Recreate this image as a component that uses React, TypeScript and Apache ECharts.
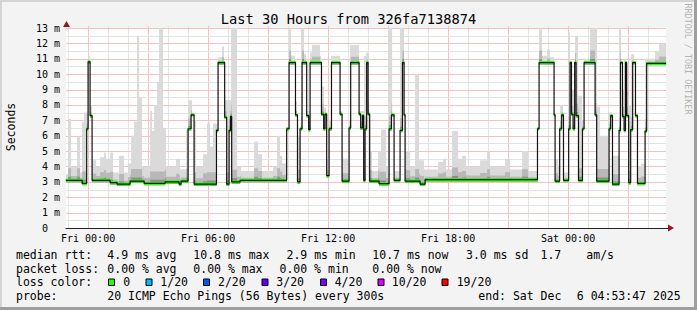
import React, { useEffect, useRef } from "react";
import * as echarts from "echarts";

// time axis in hours relative to Fri 00:00
const START = -1.104;
const END = 28.896;

// median rtt (ms): each value holds from its start hour until the next one
const medianHours = [
  -1.104, -0.3, -0.07, 0.0, 0.1, 0.2, 1.1, 1.45, 2.1, 2.8, 3.85, 4.55, 4.65, 5.0, 5.15, 5.3,
  6.42, 6.5, 6.83, 6.93, 7.05, 7.12, 7.18, 7.6, 9.93, 10.05, 10.37, 10.47, 10.6, 10.7, 10.93,
  11.03, 11.1, 11.67, 11.78, 11.85, 11.93, 12.05, 12.17, 12.6, 12.7, 13.05, 13.13, 13.55, 13.63,
  13.72, 13.78, 13.85, 13.93, 14.0, 14.08, 14.55, 15.05, 15.17, 15.3, 15.6, 15.72, 15.8, 15.85,
  16.6, 16.85, 22.47, 22.55, 23.3, 23.35, 23.58, 23.68, 23.77, 24.03, 24.1, 24.17, 24.25, 24.33,
  24.4, 24.52, 24.72, 24.8, 25.35, 25.43, 26.05, 26.13, 26.22, 26.55, 26.62, 26.72, 26.8, 26.87,
  26.93, 27.03, 27.13, 27.23, 27.37, 27.47, 27.85, 27.93,
];
const medianMs = [
  3.1, 2.9, 6.45, 10.8, 7.3, 3.1, 2.95, 2.85, 3.05, 2.9, 3.0, 2.85, 3.05, 6.45, 7.35, 2.85,
  6.35, 10.75, 7.2, 2.85, 6.35, 7.25, 3.0, 3.1, 6.45, 10.75, 7.35, 3.0, 6.45, 10.75, 7.3,
  6.4, 10.75, 7.4, 6.45, 7.4, 3.4, 6.45, 10.75, 7.4, 3.05, 6.5, 10.75, 7.4, 6.5,
  7.3, 3.1, 6.45, 10.75, 7.4, 3.05, 2.88, 6.45, 7.35, 3.1, 6.35, 10.75, 7.35, 3.05,
  2.85, 3.15, 6.45, 10.75, 7.35, 3.05, 6.45, 7.35, 3.1, 6.45, 10.75, 7.4, 6.45, 10.75,
  7.3, 3.1, 6.45, 10.75, 7.35, 3.05, 6.45, 7.3, 2.85, 6.35, 10.75, 7.25, 6.35, 10.75,
  7.3, 2.95, 6.4, 10.75, 7.3, 2.9, 6.3, 10.7,
];

// smoke (highest ping, ms): each value holds from its start hour until the next one
const smokeHours = [
  -1.104, -1.0, -0.85, -0.55, -0.4, -0.3, -0.2, 0.0, 0.1, 0.2, 0.4, 0.6, 0.8, 0.9, 1.1, 1.25,
  1.55, 1.8, 2.0, 2.15, 2.3, 2.45, 2.55, 2.7, 3.1, 3.2, 3.3, 3.45, 3.55, 3.75, 3.9, 4.4, 4.6,
  4.9, 5.0, 5.2, 5.4, 5.75, 5.95, 6.1, 6.25, 6.5, 6.7, 6.8, 7.15, 7.45, 7.65, 8.3, 8.5, 8.7,
  9.25, 9.45, 9.6, 9.7, 9.9, 10.05, 10.15, 10.35, 10.45, 10.65, 10.8, 10.9, 11.1, 11.2, 11.6,
  11.65, 11.8, 11.9, 12.05, 12.15, 12.6, 12.7, 13.05, 13.1, 13.55, 13.8, 13.9, 14.05, 14.2,
  14.5, 14.65, 14.9, 15.0, 15.2, 15.3, 15.6, 15.8, 15.9, 16.1, 16.35, 16.55, 16.8, 17.5,
  17.75, 17.9, 18.2, 18.5, 18.7, 18.9, 19.6, 19.95, 20.1, 20.85, 21.1, 21.7, 22.0, 22.45,
  22.55, 22.7, 22.95, 23.1, 23.3, 23.35, 23.5, 23.6, 23.75, 24.0, 24.1, 24.35, 24.5, 24.7,
  24.8, 25.1, 25.45, 25.6, 26.0, 26.2, 26.55, 26.65, 26.8, 26.9, 27.0, 27.15, 27.3, 27.45,
  27.65, 27.85, 28.35, 28.55,
];
const smokeTopMs = [
  3.5, 7.1, 4.0, 5.9, 3.6, 6.9, 7.5, 11.2, 8.0, 4.4, 4.0, 4.6, 4.9, 4.5, 4.9, 3.6,
  4.7, 3.6, 4.2, 6.0, 6.9, 12.5, 8.5, 4.0, 7.6, 6.3, 8.0, 9.5, 13.0, 6.5, 4.0, 4.5, 3.8,
  6.4, 8.3, 7.0, 4.0, 4.8, 6.8, 5.3, 6.8, 11.1, 11.8, 8.3, 13.0, 4.0, 3.7, 5.6, 4.8, 3.7,
  4.0, 6.0, 4.7, 4.2, 6.5, 13.0, 11.2, 8.2, 6.0, 13.0, 11.3, 7.6, 11.4, 11.9, 11.2,
  9.2, 7.8, 4.5, 7.0, 11.2, 7.6, 4.5, 7.0, 11.9, 7.6, 11.2, 11.4, 5.0, 3.7,
  5.0, 6.4, 4.0, 13.0, 7.3, 3.7, 13.0, 7.0, 5.0, 4.0, 10.0, 4.4, 3.8, 4.3,
  4.5, 3.8, 6.3, 4.5, 4.7, 4.0, 4.4, 5.0, 4.0, 4.5, 3.8, 5.0, 3.7, 6.5,
  12.9, 11.2, 11.6, 11.1, 7.5, 4.5, 4.0, 8.0, 3.6, 12.7, 9.0, 12.5, 8.6, 7.0,
  11.0, 13.0, 7.9, 6.0, 7.5, 4.7, 13.0, 9.0, 11.0, 9.0, 8.0, 11.3, 7.5, 4.0,
  4.2, 11.0, 11.5, 12.0,
];

// grid lines: hours (vertical) and ms (horizontal)
const gridHours = [-1, 0, 1, 2, 3, 4, 5, 6, 7, 8, 9, 10, 11, 12, 13, 14, 15, 16, 17, 18, 19, 20, 21, 22, 23, 24, 25, 26, 27, 28];
const gridMs = [0.5, 1, 1.5, 2, 2.5, 3, 3.5, 4, 4.5, 5, 5.5, 6, 6.5, 7, 7.5, 8, 8.5, 9, 9.5, 10, 10.5, 11, 11.5, 12, 12.5, 13];

const xLabelHours = [0, 6, 12, 18, 24];
const lossLabels = ["0", "1/20", "2/20", "3/20", "4/20", "10/20", "19/20"];
const lossColors = ["#26ff00", "#00b8ff", "#0059ff", "#5e00ff", "#7e00ff", "#dd00ff", "#ff0000"];
const lossBoxX = [108.5, 146, 203.5, 262, 320.5, 378, 442];
const lossTextX = [123.3, 160.3, 218, 276.3, 334.7, 391.8, 456.7];

const rttStats = ["4.9 ms avg", "10.8 ms max", "2.9 ms min", "10.7 ms now", "3.0 ms sd", "1.7", "am/s"];
const rttStatsX = [107.3, 193.3, 286.5, 372.3, 466, 540.5, 586.3];
const lossStats = ["0.00 % avg", "0.00 % max", "0.00 % min", "0.00 % now"];
const lossStatsX = [107.3, 193.3, 279.5, 372.3];

const MONO = "DejaVu Sans Mono";
const RED_GRID = "#f6c0c0";
const GRAY_GRID = "#e3e3e3";

export default function App() {
  const ref = useRef<HTMLDivElement>(null);

  useEffect(() => {
    document.body.style.margin = "0";
    const chart = echarts.init(ref.current!, null, { renderer: "svg" });

    const n = medianHours.length;
    // [start, value, end]
    const medSegs = medianHours.map((t, i) => [t, medianMs[i], i + 1 < n ? medianHours[i + 1] : END]);
    const medLine = medianHours.map((t, i) => [t, medianMs[i]]);
    medLine.push([END, medianMs[n - 1]]);

    // contiguous smoke pieces: {s, e, lo, hi}; hi == lo where there is no smoke
    const pieces: { s: number; e: number; lo: number; hi: number }[] = [];
    const sm = smokeHours.length;
    for (let i = 0; i < sm; i++) {
      const a = smokeHours[i];
      const b = i + 1 < sm ? smokeHours[i + 1] : END;
      for (const seg of medSegs) {
        const s = Math.max(a, seg[0]);
        const e = Math.min(b, seg[2]);
        if (e <= s) continue;
        const lo = seg[1] - 0.12;
        const hi = Math.max(lo, smokeTopMs[i]);
        pieces.push({ s, e, lo, hi });
      }
    }
    const bandTop = [
      (p: any) => p.hi,
      (p: any) => p.lo + Math.min((p.hi - p.lo) * 0.4, 0.9),
      (p: any) => p.lo + Math.min((p.hi - p.lo) * 0.15, 0.35),
    ];
    const bandFill = ["#dadada", "#b8b8b8", "#8c8c8c"];

    const gridData: number[][] = [];
    gridHours.forEach((h) => gridData.push([0, h, h % 3 === 0 ? 1 : 0]));
    gridMs.forEach((v) => gridData.push([1, v, Math.abs(v - Math.round(v)) < 1e-6 ? 1 : 0]));

    const graphics: any[] = [];
    // frame
    graphics.push({ type: "rect", shape: { x: 0, y: 0, width: 697, height: 2 }, style: { fill: "#d4d4d4" }, silent: true });
    graphics.push({ type: "rect", shape: { x: 0, y: 0, width: 2, height: 310 }, style: { fill: "#d4d4d4" }, silent: true });
    graphics.push({ type: "rect", shape: { x: 0, y: 307, width: 697, height: 3 }, style: { fill: "#9e9e9e" }, silent: true });
    graphics.push({ type: "rect", shape: { x: 694, y: 0, width: 3, height: 310 }, style: { fill: "#9e9e9e" }, silent: true });
    // arrows
    graphics.push({ type: "polygon", shape: { points: [[63, 27], [70, 27], [66.5, 21]] }, style: { fill: "#8b1a1a" }, z: 10 });
    graphics.push({ type: "polygon", shape: { points: [[668, 224.5], [668, 231.5], [674, 228]] }, style: { fill: "#8b1a1a" }, z: 10 });
    graphics.push({ type: "line", shape: { x1: 666, y1: 228.5, x2: 669, y2: 228.5 }, style: { stroke: "#222", lineWidth: 1 } });
    // title and side texts
    graphics.push({
      type: "text", x: 348.5, y: 19,
      style: { text: "Last 30 Hours from 326fa7138874", fontFamily: MONO, fontSize: 13.7, fill: "#000", textAlign: "center", textVerticalAlign: "middle" },
    });
    graphics.push({
      type: "text", x: 687.5, y: 59, rotation: -Math.PI / 2,
      style: { text: "RRDTOOL / TOBI OETIKER", fontFamily: MONO, fontSize: 8.4, fill: "#b4b4b4", textAlign: "center", textVerticalAlign: "middle" },
    });
    graphics.push({
      type: "text", x: 11, y: 127, rotation: Math.PI / 2,
      style: { text: "Seconds", fontFamily: MONO, fontSize: 11.5, fill: "#000", textAlign: "center", textVerticalAlign: "middle" },
    });
    const legendText = (text: string, x: number, y: number) => ({
      type: "text", x, y,
      style: { text, fontFamily: MONO, fontSize: 11.5, fill: "#000", textAlign: "left", textVerticalAlign: "middle" },
    });
    const L1 = 254.8, L2 = 268.5, L3 = 282.3, L4 = 296;
    graphics.push(legendText("median rtt:", 16, L1));
    rttStats.forEach((s, i) => graphics.push(legendText(s, rttStatsX[i], L1)));
    graphics.push(legendText("packet loss:", 16, L2));
    lossStats.forEach((s, i) => graphics.push(legendText(s, lossStatsX[i], L2)));
    graphics.push(legendText("loss color:", 16, L3));
    lossLabels.forEach((s, i) => {
      graphics.push({
        type: "rect", shape: { x: lossBoxX[i], y: 279, width: 6, height: 6.5 },
        style: { fill: lossColors[i], stroke: "#000", lineWidth: 1 },
      });
      graphics.push(legendText(s, lossTextX[i], L3));
    });
    graphics.push(legendText("probe:", 16, L4));
    graphics.push(legendText("20 ICMP Echo Pings (56 Bytes) every 300s", 107.3, L4));
    graphics.push(legendText("end: Sat Dec", 478.3, L4));
    graphics.push(legendText("6 04:53:47 2025", 576.8, L4));

    const option: any = {
      animation: false,
      backgroundColor: "#f3f3f3",
      grid: { left: 66, right: 31, top: 28, bottom: 82, show: true, backgroundColor: "#ffffff", borderWidth: 0 },
      xAxis: {
        type: "value", min: START, max: END,
        axisLine: { show: true, lineStyle: { color: "#222", width: 1 } },
        axisTick: { show: false },
        splitLine: { show: false },
        axisLabel: {
          customValues: xLabelHours,
          formatter: (v: number) => (v >= 24 ? "Sat " : "Fri ") + String(Math.round(v) % 24).padStart(2, "0") + ":00",
          fontFamily: MONO, fontSize: 10, color: "#000", margin: 5,
        },
      },
      yAxis: {
        type: "value", min: 0, max: 13, interval: 1,
        axisLine: { show: true, lineStyle: { color: "#707070", width: 1 } },
        axisTick: { show: false },
        splitLine: { show: false },
        axisLabel: {
          formatter: (v: number) => (v === 0 ? "{z|0}" : v + " m"),
          fontFamily: MONO, fontSize: 10, color: "#000", margin: 6,
          rich: { z: { fontFamily: MONO, fontSize: 10, color: "#000", padding: [0, 12, 0, 0] } },
        },
      },
      graphic: graphics,
      series: [
        {
          type: "custom", z: 1, silent: true,
          data: gridData,
          renderItem: (params: any, api: any) => {
            const cs = params.coordSys;
            const vertical = api.value(0) === 0;
            const val = api.value(1);
            const major = api.value(2) === 1;
            const stroke = major ? RED_GRID : GRAY_GRID;
            if (vertical) {
              const x = Math.round(api.coord([val, 0])[0]) + 0.5;
              return { type: "line", shape: { x1: x, y1: cs.y - 2, x2: x, y2: cs.y + cs.height }, style: { stroke, lineWidth: 1 } };
            }
            const y = Math.round(api.coord([0, val])[1]) + 0.5;
            return { type: "line", shape: { x1: cs.x, y1: y, x2: cs.x + cs.width, y2: y }, style: { stroke, lineWidth: 1 } };
          },
        },
        {
          // smoke: one item that draws the three grey bands as polygons through the axis scales
          type: "custom", z: 2, silent: true, clip: false,
          data: [[1, 1]],
          renderItem: (params: any, api: any) => {
            const children = bandTop.map((topFn, k) => {
              const pts: number[][] = [];
              for (const p of pieces) {
                const top = topFn(p);
                pts.push(api.coord([p.s, top]));
                pts.push(api.coord([p.e, top]));
              }
              for (let j = pieces.length - 1; j >= 0; j--) {
                const p = pieces[j];
                pts.push(api.coord([p.e, p.lo]));
                pts.push(api.coord([p.s, p.lo]));
              }
              return { type: "polygon", shape: { points: pts }, style: { fill: bandFill[k] } };
            });
            return { type: "group", children };
          },
        },
        {
          type: "custom", z: 5, silent: true,
          data: medSegs,
          encode: { x: [0, 2], y: 1 },
          renderItem: (params: any, api: any) => {
            const a = api.coord([api.value(0), api.value(1)]);
            const b = api.coord([api.value(2), api.value(1)]);
            return { type: "rect", shape: { x: a[0] - 0.3, y: a[1] - 1.6, width: b[0] - a[0] + 0.6, height: 3.2 }, style: { fill: "#26ff00" } };
          },
        },
        {
          type: "line", z: 6, silent: true, step: "end", data: medLine, showSymbol: false,
          lineStyle: { color: "#111", width: 1.2 },
        },
      ],
    };
    chart.setOption(option);
    return () => chart.dispose();
  }, []);

  return <div ref={ref} style={{ width: 697, height: 310 }} />;
}
